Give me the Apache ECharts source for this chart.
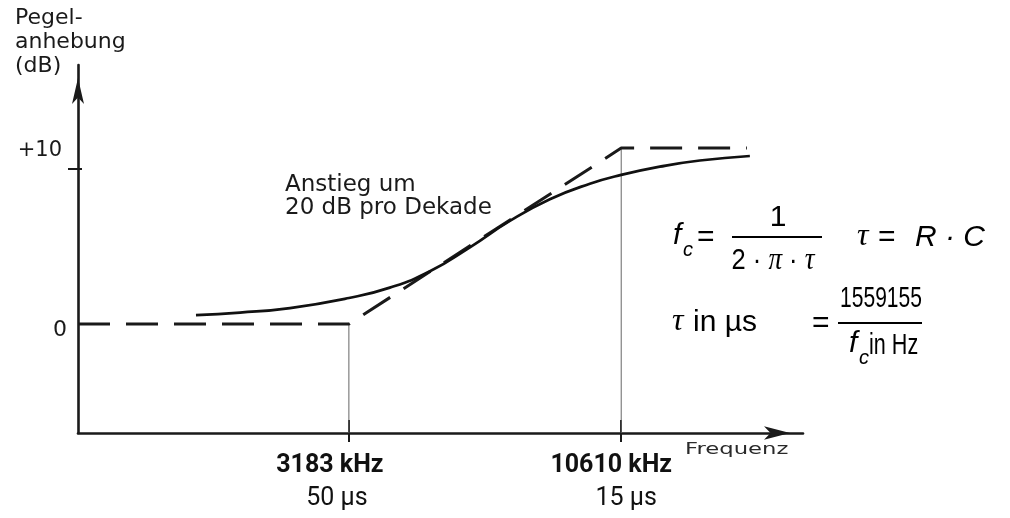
<!DOCTYPE html>
<html><head><meta charset="utf-8">
<script src="https://cdn.jsdelivr.net/npm/echarts@6/dist/echarts.min.js"></script>
<style>html,body{margin:0;padding:0;background:#fff}#c{width:1010px;height:518px}</style>
</head><body><div id="c"></div><script>
// ---- data ----
const curveFreqKHz = [1619,1967,2453,3183,3815,4554,5435,6485,7739,9237,10610,12587,15020,18738];
const curveDB      = [0.58,0.74,1.03,1.68,2.35,3.40,4.95,6.65,8.05,9.05,9.62,10.15,10.55,10.84];
const asymFreqKHz  = [961,3183,10610,18500];
const asymDB       = [0,0,11.35,11.35];
const cornerFreqKHz = [3183,10610];
const cornerTopDB   = [0,11.35];
const cornerLabels  = ['3183 kHz','10610 kHz'];
const tauLabels     = ['50 µs','15 µs'];
const yTicks        = [0,10];
const yTickLabels   = ['0','+10'];
const xRangeKHz     = [961,23700];
const yRangeDB      = [-7.03,16.71];

const L = Math.log10;
const ink = '#1a1a1a';
const curve = curveFreqKHz.map((f,i)=>[L(f),curveDB[i]]);
const asym  = asymFreqKHz.map((f,i)=>[L(f),asymDB[i]]);
const cornerLogs = cornerFreqKHz.map(L);
const vlines = cornerFreqKHz.map((f,i)=>({
  type:'line', xAxisIndex:0, yAxisIndex:0, symbol:'none', silent:true,
  lineStyle:{color:'#666', width:1},
  data:[[L(f),yRangeDB[0]],[L(f),cornerTopDB[i]]]
}));

function lblIdx(v){ let b=0,d=1e9; cornerLogs.forEach((c,i)=>{ if(Math.abs(c-v)<d){d=Math.abs(c-v);b=i;} }); return b; }

const sans='Liberation Sans', serif='Liberation Serif', gfont='DejaVu Sans';
function T(x,y,text,o){
  o=o||{};
  return {type:'text', x:x, y:y, scaleX:o.sx||1, silent:true, z:10,
    style:{text:text, fontFamily:o.ff||sans, fontSize:o.fs||30, fontStyle:o.it?'italic':'normal',
      fontWeight:o.fw||'normal', fill:o.fill||'#000', align:o.al||'left', verticalAlign:o.va||'middle',
      lineHeight:o.lh, rich:o.rich}};
}
function bar(x1,x2,y){ return {type:'line', silent:true, z:10, shape:{x1:x1,y1:y,x2:x2,y2:y}, style:{stroke:'#000',lineWidth:2}}; }

const option = {
  animation:false,
  backgroundColor:'#fff',
  grid:{left:78, right:207, top:65, bottom:85, outerBoundsMode:'none', containLabel:false},
  xAxis:[{
    type:'value', min:L(xRangeKHz[0]), max:L(xRangeKHz[1]),
    axisLine:{onZero:false, lineStyle:{color:ink, width:2.6}, symbol:['none','arrow'], symbolSize:[10,26], symbolOffset:[0,-13]},
    axisTick:{show:true, customValues:cornerLogs, length:9, lineStyle:{color:ink,width:2}},
    splitLine:{show:false},
    axisLabel:{customValues:cornerLogs, margin:16,
      formatter:v=>{const i=lblIdx(v); return i===0?'{a|'+cornerLabels[i]+'}\n{b|'+tauLabels[i]+'}':'{c|'+cornerLabels[i]+'}\n{d|'+tauLabels[i]+'}';},
      rich:{
        a:{fontFamily:'Roboto',fontWeight:'bold',fontSize:25,color:'#111',lineHeight:33,padding:[0,38,0,0]},
        b:{fontFamily:'Roboto',fontSize:25,color:'#111',lineHeight:33,padding:[0,24,0,0]},
        c:{fontFamily:'Roboto',fontWeight:'bold',fontSize:25,color:'#111',lineHeight:33,padding:[0,20,0,0]},
        d:{fontFamily:'Roboto',fontSize:25,color:'#111',lineHeight:33,padding:[0,0,0,10]}
      }}
  },{
    type:'value', min:L(xRangeKHz[0]), max:L(xRangeKHz[1]), position:'bottom',
    axisLine:{show:false, onZero:false}, splitLine:{show:false}, axisLabel:{show:false},
    axisTick:{show:true, inside:true, customValues:cornerLogs, length:13, lineStyle:{color:ink,width:2}}
  }],
  yAxis:[{
    type:'value', min:yRangeDB[0], max:yRangeDB[1],
    axisLine:{onZero:false, lineStyle:{color:ink, width:2.6}, symbol:['none','arrow'], symbolSize:[9,26], symbolOffset:[0,-13]},
    axisTick:{show:true, customValues:[yTicks[1]], length:10, lineStyle:{color:ink,width:2}},
    splitLine:{show:false},
    axisLabel:{customValues:yTicks, margin:11,
      formatter:v=>{const i=yTicks.indexOf(Math.round(v)); return i===1?'{p|'+yTickLabels[i]+'}':'{z|'+yTickLabels[i]+'}';},
      rich:{
        p:{fontFamily:gfont,fontSize:21,color:'#1a1a1a',padding:[0,5,36,0]},
        z:{fontFamily:gfont,fontSize:22,color:'#1a1a1a',padding:[12,0,0,0]}
      }}
  },{
    type:'value', min:yRangeDB[0], max:yRangeDB[1], position:'left',
    axisLine:{show:false, onZero:false}, splitLine:{show:false}, axisLabel:{show:false},
    axisTick:{show:true, inside:true, customValues:[yTicks[1]], length:4, lineStyle:{color:ink,width:2}}
  }],
  series:[
    ...vlines,
    {type:'line', name:'Asymptote', xAxisIndex:0, yAxisIndex:0, symbol:'none', silent:true, data:asym,
      lineStyle:{color:ink, width:3, type:[32,16], cap:'butt'}},
    {type:'line', name:'Pegel', xAxisIndex:0, yAxisIndex:0, symbol:'none', silent:true, data:curve,
      smooth:0.5, lineStyle:{color:'#111', width:2.7}}
  ],
  graphic:[
    T(15,6,'Pegel-\nanhebung\n(dB)',{ff:gfont,fs:22,lh:24,fill:'#1a1a1a',va:'top'}),
    T(285,174,'Anstieg um\n20 dB pro Dekade',{ff:gfont,fs:23,lh:23,fill:'#1a1a1a',va:'top'}),
    T(685,450,'Frequenz',{ff:gfont,fs:16,fill:'#2a2a2a',sx:1.42}),
    // formula 1
    T(673,236,'f',{it:true}),
    T(683,250,'c',{it:true,fs:20}),
    T(697,238,'=',{}),
    T(778,218,'1',{al:'center'}),
    bar(732,822,237),
    T(773,261,'{n|2}{n| · }{g|π}{n| · }{g|τ}',{al:'center',sx:0.85,rich:{n:{fontFamily:sans,fontSize:30},g:{fontFamily:serif,fontStyle:'italic',fontSize:32}}}),
    T(857,237,'τ',{ff:serif,it:true,fs:32}),
    T(878,238,'=',{}),
    T(915,238,'R · C',{it:true}),
    // formula 2
    T(672,322,'τ',{ff:serif,it:true,fs:32}),
    T(693,323,'in µs',{}),
    T(812,324,'=',{}),
    T(881,299,'1559155',{al:'center',sx:0.7}),
    bar(838,922,323),
    T(849,344,'f',{it:true}),
    T(859,358,'c',{it:true,fs:20}),
    T(869,346,'in Hz',{sx:0.72})
  ]
};
echarts.init(document.getElementById('c')).setOption(option);
</script></body></html>
